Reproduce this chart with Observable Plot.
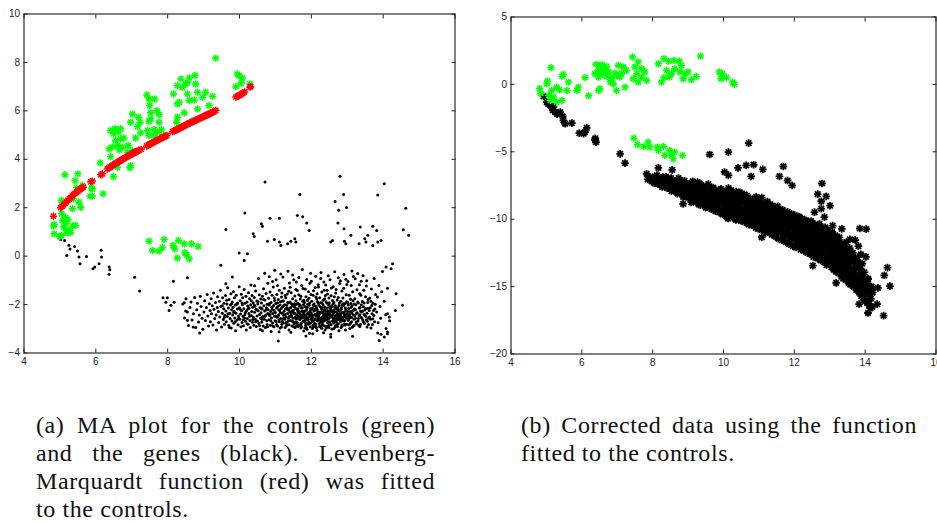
<!DOCTYPE html>
<html><head><meta charset="utf-8">
<script src="https://cdn.jsdelivr.net/npm/d3@7"></script>
<script src="https://cdn.jsdelivr.net/npm/@observablehq/plot@0.6"></script>
<style>
html,body{margin:0;padding:0;background:#fff;overflow:hidden;width:937px;height:523px;}
#wrap{position:relative;width:937px;height:523px;overflow:hidden;}
.panel{position:absolute;top:0;}
.cap{position:absolute;font-family:"Liberation Serif","DejaVu Serif",serif;font-size:24px;line-height:28px;letter-spacing:0.6px;color:#111;}
.cap .j{text-align:justify;text-align-last:justify;}
</style></head><body>
<div id="wrap">
  <div id="pa" class="panel" style="left:0px;width:470px"></div>
  <div id="pb" class="panel" style="left:470px;width:480px"></div>
  <div class="cap" style="left:36px;top:411px;width:399px">
    <div class="j">(a) MA plot for the controls (green)</div>
    <div class="j">and the genes (black). Levenberg-</div>
    <div class="j">Marquardt function (red) was fitted</div>
    <div>to the controls.</div>
  </div>
  <div class="cap" style="left:521px;top:411px;width:396px">
    <div class="j">(b) Corrected data using the function</div>
    <div>fitted to the controls.</div>
  </div>
</div>
<script>
const xTicks = [4,6,8,10,12,14,16];
const yTicksA = [-4,-2,0,2,4,6,8,10];
const yTicksB = [-20,-15,-10,-5,0,5];

// Panel (a): controls (green), flat [A, M, A, M, ...]
const controlsA = [5.14,3.36,5.42,3.12,5.50,3.40,5.63,2.92,5.47,2.82,5.04,2.30,5.37,2.37,5.53,2.23,5.35,1.96,5.58,2.02,5.84,2.48,5.91,2.78,
4.84,1.31,5.07,1.47,5.16,1.34,5.44,1.27,5.25,1.06,4.84,0.92,5.04,0.86,5.21,0.95,5.30,0.99,5.10,1.20,5.05,1.75,5.15,1.60,5.22,1.50,4.82,1.25,5.00,0.80,5.35,1.25,5.18,1.05,
6.20,2.57,5.88,2.81,5.90,2.48,6.12,3.85,6.49,3.29,6.60,3.67,6.97,3.74,6.95,3.65,6.41,4.11,6.37,4.43,6.65,4.39,6.88,4.29,7.02,4.36,
6.55,4.77,6.69,4.84,6.78,4.88,6.60,4.57,6.46,4.50,6.74,4.50,6.90,4.57,6.41,5.19,6.53,5.26,6.69,5.26,6.49,5.05,6.62,5.12,7.11,4.88,7.25,5.09,
7.02,5.87,6.97,5.53,7.19,5.74,7.23,5.53,7.16,5.35,7.42,6.66,7.48,6.49,7.64,6.49,7.50,6.22,7.53,5.92,7.70,6.01,7.76,5.85,7.53,5.67,
7.48,5.57,7.76,5.53,7.62,5.23,7.44,5.19,7.72,5.12,7.48,4.98,7.62,4.98,7.83,5.21,8.25,5.53,8.27,5.74,8.46,5.92,8.32,6.36,8.83,6.08,9.15,6.22,
8.27,6.29,8.60,6.43,8.74,6.45,8.97,6.56,8.16,6.70,8.55,6.70,8.83,6.77,9.06,6.77,9.25,6.60,8.27,7.04,8.41,6.97,8.50,7.11,8.78,7.11,8.55,7.18,
8.76,7.46,8.60,7.36,8.37,7.32,9.34,8.18,9.94,7.52,9.99,7.45,10.08,7.36,10.05,7.15,9.90,7.00,10.29,7.11,
7.48,0.62,7.58,0.24,7.76,0.21,7.85,0.35,7.90,0.69,8.15,0.44,8.20,0.30,8.30,0.65,8.27,-0.08,8.46,0.51,8.48,0.14,8.53,0.05,8.60,-0.11,8.66,0.51,8.85,0.40];

// Panel (a): fitted function (red)
const fitA = [4.82,1.65,5.02,2.00,5.06,2.06,5.10,2.12,5.14,2.18,5.18,2.24,5.22,2.30,5.26,2.36,5.30,2.42,5.34,2.48,5.38,2.54,5.42,2.59,5.46,2.64,5.50,2.69,5.54,2.74,5.58,2.78,5.62,2.82,5.65,2.85,
5.86,3.07,5.90,3.10,6.14,3.36,6.18,3.40,
6.32,3.60,6.36,3.64,6.40,3.68,6.44,3.72,6.48,3.76,6.52,3.80,6.56,3.84,6.60,3.87,6.64,3.90,6.68,3.94,6.72,3.98,6.76,4.02,6.80,4.05,6.84,4.08,6.88,4.12,6.92,4.15,6.96,4.18,7.00,4.21,7.04,4.25,7.08,4.28,7.12,4.31,7.16,4.34,7.20,4.37,7.26,4.41,
7.42,4.55,7.46,4.58,7.50,4.62,7.54,4.65,7.58,4.68,7.62,4.72,7.66,4.75,7.70,4.78,7.74,4.81,7.78,4.84,7.82,4.87,7.86,4.90,7.90,4.93,7.94,4.96,7.98,4.99,
8.14,5.14,8.18,5.17,8.22,5.20,8.26,5.23,8.30,5.26,8.34,5.29,8.38,5.32,8.42,5.35,8.46,5.38,8.50,5.41,8.54,5.44,8.58,5.47,8.62,5.50,8.66,5.53,8.70,5.56,8.74,5.58,8.78,5.61,8.82,5.64,8.86,5.67,8.90,5.70,8.94,5.72,8.98,5.75,9.02,5.78,9.06,5.81,9.10,5.84,9.14,5.86,9.18,5.89,9.22,5.92,9.26,5.95,9.30,5.98,9.34,6.02,
9.90,6.57,9.94,6.60,9.98,6.63,10.02,6.66,10.06,6.70,10.10,6.74,10.14,6.78,10.29,6.98,10.31,7.00];

// Panel (a): genes (black)
const genesA = [5.02,0.68,5.13,0.65,5.25,0.45,5.28,0.30,5.19,0.03,5.41,0.40,5.49,0.21,5.53,-0.04,5.56,-0.31,5.74,-0.01,5.92,-0.52,5.97,-0.45,6.09,-0.31,6.15,0.24,6.16,-0.04,6.37,-0.45,6.39,-0.56,6.37,-0.75,7.08,-0.87,7.22,-1.44,
10.71,3.06,12.80,3.30,14.03,2.99,11.68,2.55,12.90,2.55,13.85,2.53,12.66,2.26,12.98,2.01,12.76,1.90,14.63,1.98,10.15,1.78,11.61,1.68,11.76,1.63,10.85,1.57,11.11,1.57,11.87,1.37,12.74,1.37,10.61,1.34,10.64,1.23,11.94,1.06,9.62,1.10,12.91,1.13,13.36,1.20,13.71,1.23,13.82,1.06,13.10,0.86,13.49,0.72,13.57,0.86,14.56,1.09,14.71,0.86,10.38,0.92,10.41,0.81,10.78,0.62,10.97,0.69,11.11,0.58,11.15,0.44,11.34,0.51,11.43,0.62,11.54,0.72,11.57,0.58,12.54,0.58,12.59,0.65,12.92,0.62,12.96,0.51,13.33,0.51,13.52,0.58,13.71,0.44,13.85,0.58,13.94,0.65,9.99,0.13,10.22,0.10,10.13,-0.18,9.48,-0.38,9.80,-0.86,9.62,-1.14,8.55,-0.89,8.16,-1.04,7.87,-1.72,7.99,-1.72,7.95,-1.90,8.09,-2.03,8.18,-1.90,8.04,-2.24,8.46,-1.92,8.50,-2.27,8.71,-2.93,8.89,-3.17,8.55,-2.65,14.22,-0.52,14.08,-0.45,14.26,-0.31,14.36,-1.55,14.54,-2.03,14.12,-2.38,14.17,-2.51,14.34,-2.24,14.08,-2.99,14.12,-3.20,13.94,-3.23,13.85,-3.17,14.03,-3.34,13.89,-3.48,14.12,-3.13,11.08,-3.50,11.85,-3.30,12.54,-3.34,13.15,-3.31,
8.42,-1.98,8.47,-2.55,8.51,-1.76,8.55,-2.31,8.58,-2.86,8.62,-2.12,8.65,-1.89,8.68,-2.64,8.72,-2.38,8.75,-1.71,8.78,-2.95,8.81,-2.21,8.83,-1.95,8.86,-2.72,8.88,-2.43,8.91,-1.66,8.93,-2.08,8.96,-2.57,8.98,-3.02,
9.01,-2.31,9.03,-1.84,9.05,-2.66,9.08,-2.12,9.10,-1.58,9.12,-2.47,9.14,-2.89,9.16,-1.97,9.18,-2.24,9.19,-2.71,9.21,-1.76,9.22,-2.38,9.24,-2.05,9.26,-2.84,9.28,-1.52,9.29,-2.19,9.31,-2.58,9.33,-1.91,9.35,-2.43,9.36,-3.05,9.38,-2.12,9.39,-1.68,
9.41,-2.29,9.42,-2.74,9.44,-1.86,9.45,-2.51,9.47,-1.41,9.48,-2.08,9.50,-2.93,9.52,-2.36,9.53,-1.72,9.55,-2.62,9.56,-2.17,9.57,-1.95,9.58,-2.81,9.59,-2.44,
9.61,-1.63,9.62,-2.27,9.63,-2.71,9.65,-1.98,9.66,-2.49,9.67,-1.31,9.69,-2.14,9.70,-2.86,9.71,-1.79,9.73,-2.36,9.74,-2.58,9.75,-2.02,9.76,-1.55,9.77,-2.97,9.78,-2.21,9.79,-2.68,
9.80,-1.89,9.81,-2.43,9.82,-2.11,9.83,-1.47,9.84,-2.77,9.85,-2.29,9.86,-1.72,9.87,-2.55,9.88,-2.02,9.89,-3.08,9.90,-2.36,9.91,-1.61,9.93,-2.64,9.94,-2.18,9.95,-1.93,9.96,-2.83,9.97,-2.47,9.99,-1.26,
10.00,-2.13,10.01,-2.61,10.02,-1.84,10.03,-2.39,10.04,-2.92,10.05,-1.57,10.06,-2.26,10.07,-2.74,10.08,-2.01,10.09,-1.72,10.10,-2.48,10.11,-2.87,10.12,-2.17,10.13,-1.38,10.14,-2.55,10.15,-1.95,10.16,-2.33,10.17,-2.69,10.18,-1.66,10.19,-3.05,
10.20,-2.24,10.21,-1.89,10.22,-2.58,10.23,-2.06,10.24,-2.81,10.25,-1.51,10.26,-2.37,10.27,-2.14,10.28,-1.76,10.29,-2.66,10.30,-2.95,10.31,-2.01,10.32,-1.19,10.33,-2.45,10.34,-2.29,10.35,-1.63,10.36,-2.73,10.37,-2.11,10.38,-1.92,10.39,-2.52,
10.40,-2.85,10.41,-1.71,10.42,-2.32,10.43,-2.07,10.44,-2.61,10.45,-1.44,10.46,-2.19,10.47,-2.91,10.48,-1.85,10.49,-2.47,10.50,-2.68,10.51,-1.98,10.52,-2.26,10.53,-0.92,10.54,-2.77,10.55,-1.59,10.56,-2.41,10.57,-2.12,10.58,-3.03,10.59,-1.77,10.59,-2.56,10.42,-1.22,
10.60,-2.34,10.61,-1.93,10.62,-2.72,10.63,-2.18,10.64,-1.66,10.65,-2.49,10.66,-2.88,10.67,-1.35,10.68,-2.05,10.69,-2.61,10.70,-2.27,10.71,-1.81,10.72,-2.95,10.73,-2.43,10.74,-1.54,10.75,-2.13,10.76,-2.67,10.77,-1.99,10.78,-2.38,10.79,-1.12,10.64,-3.08,10.70,-0.71,10.77,-2.82,10.62,-2.54,
10.80,-2.21,10.81,-1.74,10.82,-2.63,10.83,-2.02,10.84,-2.46,10.85,-1.48,10.86,-2.85,10.87,-2.29,10.88,-1.91,10.89,-2.55,10.90,-2.11,10.91,-1.62,10.92,-2.76,10.93,-2.37,10.94,-1.27,10.95,-2.04,10.96,-2.92,10.97,-2.48,10.98,-1.83,10.99,-2.67,10.83,-0.85,10.88,-3.11,10.92,-1.05,10.96,-2.23,10.85,-2.41,10.98,-0.58,
11.00,-2.33,11.01,-1.96,11.02,-2.71,11.03,-2.14,11.04,-1.58,11.05,-2.52,11.06,-2.89,11.07,-2.07,11.08,-1.79,11.09,-2.42,11.10,-2.63,11.11,-1.41,11.12,-2.25,11.13,-2.97,11.14,-1.88,11.15,-2.58,11.16,-2.16,11.17,-1.69,11.18,-2.81,11.19,-2.36,11.02,-0.98,11.06,-1.21,11.10,-3.12,11.13,-2.02,11.15,-0.74,11.18,-1.52,11.08,-2.46,11.19,-2.69,
11.20,-2.09,11.21,-2.75,11.22,-1.84,11.23,-2.44,11.24,-2.28,11.25,-1.33,11.26,-2.61,11.27,-2.95,11.28,-2.17,11.29,-1.72,11.30,-2.51,11.31,-2.03,11.32,-2.84,11.33,-1.56,11.34,-2.37,11.35,-2.69,11.36,-1.94,11.37,-2.22,11.38,-3.05,11.39,-1.11,11.21,-0.86,11.24,-2.57,11.27,-1.63,11.30,-2.89,11.33,-2.13,11.35,-0.62,11.37,-1.45,11.39,-2.48,11.26,-2.01,11.31,-2.73,
11.40,-2.31,11.41,-1.89,11.42,-2.66,11.43,-2.12,11.44,-1.51,11.45,-2.47,11.46,-2.88,11.47,-2.04,11.48,-1.76,11.49,-2.56,11.50,-2.23,11.51,-0.97,11.52,-2.79,11.53,-2.38,11.54,-1.65,11.55,-2.95,11.56,-2.15,11.57,-1.84,11.58,-2.61,11.59,-2.43,11.41,-1.28,11.43,-3.14,11.46,-2.27,11.48,-0.78,11.50,-2.71,11.53,-1.97,11.55,-2.52,11.57,-1.38,11.59,-2.86,11.44,-2.39,11.52,-2.09,11.58,-1.07,
11.60,-2.19,11.61,-2.74,11.62,-1.93,11.63,-2.49,11.64,-2.33,11.65,-1.59,11.66,-2.83,11.67,-2.06,11.68,-2.62,11.69,-1.77,11.70,-2.41,11.71,-2.97,11.72,-2.14,11.73,-1.21,11.74,-2.55,11.75,-2.27,11.76,-1.86,11.77,-2.69,11.78,-2.01,11.79,-3.09,11.61,-1.42,11.63,-2.91,11.65,-0.88,11.67,-2.37,11.69,-2.58,11.71,-1.66,11.73,-2.44,11.75,-0.55,11.77,-1.34,11.79,-2.35,11.62,-2.25,11.66,-1.99,11.72,-2.78,11.78,-2.52,
11.80,-2.28,11.81,-1.91,11.82,-2.64,11.83,-2.09,11.84,-2.85,11.85,-1.68,11.86,-2.46,11.87,-2.21,11.88,-3.02,11.89,-1.83,11.90,-2.57,11.91,-2.34,11.92,-1.47,11.93,-2.73,11.94,-2.03,11.95,-2.49,11.96,-1.12,11.97,-2.92,11.98,-2.17,11.99,-2.61,11.81,-2.42,11.83,-1.36,11.85,-2.77,11.87,-0.96,11.89,-2.38,11.91,-2.81,11.93,-1.74,11.95,-3.18,11.97,-2.26,11.99,-1.58,11.82,-2.97,11.86,-2.11,11.90,-1.99,11.94,-2.41,11.98,-0.71,11.84,-2.53,
12.00,-2.35,12.01,-1.86,12.02,-2.71,12.03,-2.14,12.04,-2.53,12.05,-1.61,12.06,-2.92,12.07,-2.27,12.08,-1.98,12.09,-2.64,12.10,-2.41,12.11,-1.29,12.12,-2.81,12.13,-2.08,12.14,-2.47,12.15,-1.77,12.16,-3.07,12.17,-2.22,12.18,-2.59,12.19,-1.93,12.00,-1.04,12.02,-2.44,12.04,-3.21,12.06,-1.43,12.08,-2.76,12.10,-2.18,12.12,-0.83,12.14,-2.96,12.16,-1.55,12.18,-2.33,12.01,-2.57,12.05,-2.02,12.09,-2.87,12.13,-1.69,12.17,-2.67,12.19,-1.18,12.03,-2.99,12.15,-2.38,
12.20,-2.46,12.21,-2.02,12.22,-2.78,12.23,-1.72,12.24,-2.31,12.25,-2.61,12.26,-1.91,12.27,-2.94,12.28,-2.17,12.29,-1.48,12.30,-2.53,12.31,-2.26,12.32,-2.85,12.33,-1.82,12.34,-2.42,12.35,-1.07,12.36,-2.68,12.37,-2.11,12.38,-3.05,12.39,-1.63,12.20,-1.27,12.22,-2.39,12.24,-2.88,12.26,-0.92,12.28,-2.72,12.30,-1.95,12.32,-2.33,12.34,-3.16,12.36,-1.41,12.38,-2.57,12.21,-2.65,12.25,-2.09,12.29,-2.98,12.33,-2.49,12.37,-1.76,12.39,-2.24,12.27,-0.68,12.31,-2.81,
12.40,-2.29,12.41,-1.88,12.42,-2.63,12.43,-2.14,12.44,-2.91,12.45,-1.56,12.46,-2.44,12.47,-2.73,12.48,-2.02,12.49,-1.73,12.50,-2.55,12.51,-2.36,12.52,-0.98,12.53,-2.82,12.54,-2.19,12.55,-1.64,12.56,-2.49,12.57,-3.01,12.58,-2.07,12.59,-2.68,12.40,-1.19,12.42,-2.97,12.44,-1.41,12.46,-2.25,12.48,-2.86,12.50,-1.92,12.52,-2.42,12.54,-3.23,12.56,-1.32,12.58,-2.31,12.43,-2.52,12.47,-0.81,12.51,-2.71,12.55,-2.11,12.59,-1.83,12.45,-2.38,
12.60,-2.41,12.61,-1.97,12.62,-2.76,12.63,-2.22,12.64,-1.68,12.65,-2.58,12.66,-2.93,12.67,-2.05,12.68,-1.52,12.69,-2.47,12.70,-2.31,12.71,-2.84,12.72,-1.81,12.73,-2.63,12.74,-2.13,12.75,-0.89,12.76,-2.52,12.77,-3.08,12.78,-1.94,12.79,-2.37,12.61,-1.26,12.63,-2.99,12.65,-0.64,12.67,-2.69,12.69,-1.38,12.71,-2.18,12.73,-2.91,12.75,-1.71,12.77,-2.44,12.79,-1.13,12.62,-2.33,12.66,-2.11,12.70,-2.73,12.74,-2.56,
12.80,-2.27,12.81,-2.71,12.82,-1.86,12.83,-2.49,12.84,-2.12,12.85,-1.44,12.86,-2.88,12.87,-2.35,12.88,-1.73,12.89,-2.61,12.90,-2.04,12.91,-0.76,12.92,-2.79,12.93,-2.43,12.94,-1.96,12.95,-3.05,12.96,-2.21,12.97,-1.59,12.98,-2.56,12.99,-1.17,12.81,-1.02,12.83,-2.95,12.86,-2.01,12.88,-2.67,12.90,-1.33,12.92,-2.31,12.94,-2.84,12.96,-0.95,12.98,-1.88,12.85,-2.58,
13.00,-2.38,13.01,-1.91,13.03,-2.66,13.04,-2.16,13.05,-1.62,13.06,-2.83,13.08,-2.29,13.09,-1.78,13.10,-2.52,13.11,-1.21,13.12,-2.71,13.13,-2.05,13.14,-2.94,13.15,-1.47,13.16,-2.41,13.17,-0.84,13.18,-2.23,13.19,-2.61,13.02,-1.05,13.07,-2.99,13.10,-1.96,13.13,-0.61,13.16,-1.84,13.19,-2.86,13.04,-2.47,13.12,-2.33,
13.20,-2.18,13.21,-1.76,13.23,-2.57,13.24,-2.01,13.26,-2.79,13.27,-1.39,13.28,-2.34,13.30,-2.68,13.31,-1.93,13.33,-2.46,13.34,-1.18,13.35,-2.91,13.36,-2.12,13.38,-1.62,13.39,-2.53,13.22,-0.93,13.25,-2.37,13.29,-0.72,13.32,-2.86,13.35,-1.55,13.37,-2.27,13.39,-1.04,
13.40,-2.31,13.42,-1.87,13.43,-2.64,13.45,-2.09,13.46,-1.41,13.48,-2.78,13.49,-2.22,13.51,-1.68,13.52,-2.49,13.54,-1.02,13.55,-2.93,13.57,-2.15,13.58,-1.79,13.59,-2.57,13.44,-0.81,13.47,-2.41,13.53,-1.23,13.56,-2.69,
13.61,-2.24,13.63,-1.73,13.65,-2.61,13.67,-1.36,13.68,-2.04,13.70,-2.82,13.72,-1.95,13.74,-2.45,13.75,-0.92,13.77,-2.18,13.79,-1.58,13.66,-2.97,
13.82,-2.31,13.84,-1.69,13.86,-2.75,13.88,-1.21,13.91,-2.08,13.93,-2.56,13.96,-1.47,13.98,-0.63,14.03,-1.86,14.07,-2.42,14.12,-1.33,14.18,-2.67,
9.52,-2.05,9.58,-2.52,9.64,-1.82,9.68,-2.38,9.72,-2.95,9.78,-1.97,9.84,-2.32,9.88,-2.71,9.92,-1.99,9.98,-2.56,
10.03,-2.21,10.07,-1.94,10.11,-2.63,10.15,-2.42,10.21,-2.79,10.24,-2.17,10.28,-2.48,10.33,-1.84,10.37,-2.62,10.41,-2.02,
10.45,-2.71,10.49,-2.22,10.52,-1.88,10.56,-2.87,10.61,-2.15,10.63,-2.61,10.67,-1.79,10.71,-2.48,10.74,-2.21,10.78,-2.92,
10.81,-2.38,10.84,-1.95,10.87,-2.67,10.91,-2.19,10.93,-2.88,10.97,-1.73,11.01,-2.47,11.03,-2.82,11.06,-1.92,11.09,-2.21,
11.11,-2.71,11.14,-2.34,11.17,-2.93,11.19,-1.86,11.22,-2.58,11.24,-2.03,11.27,-2.41,11.29,-2.77,11.32,-2.19,11.34,-1.91,
11.36,-2.56,11.38,-2.83,11.41,-2.14,11.43,-2.48,11.45,-1.97,11.47,-2.69,11.49,-2.31,11.51,-2.92,11.53,-2.06,11.55,-2.37,
11.57,-2.74,11.59,-1.99,11.61,-2.56,11.63,-2.17,11.65,-2.86,11.67,-2.29,11.69,-2.03,11.71,-2.51,11.73,-2.91,11.75,-2.13,
11.77,-2.45,11.79,-1.82,11.81,-2.71,11.83,-2.27,11.85,-2.52,11.87,-2.96,11.89,-2.11,11.91,-2.62,11.93,-2.35,11.95,-1.94,
11.97,-2.77,11.99,-2.44,12.01,-2.19,12.03,-2.68,12.05,-2.86,12.07,-2.04,12.09,-2.43,12.11,-2.59,12.13,-2.92,12.15,-2.14,
12.17,-1.87,12.19,-2.51,12.21,-2.33,12.23,-2.91,12.25,-2.36,12.27,-2.58,12.29,-2.12,12.31,-2.71,12.33,-2.02,12.35,-2.48,
12.37,-2.89,12.39,-2.39,12.41,-2.56,12.43,-1.93,12.45,-2.74,12.47,-2.29,12.49,-2.95,12.51,-2.12,12.53,-2.46,12.55,-2.83,
12.57,-2.27,12.59,-2.53,12.61,-2.69,12.63,-1.91,12.65,-2.31,12.67,-2.87,12.69,-2.16,12.71,-2.55,12.73,-2.38,12.75,-2.79,
12.77,-2.04,12.79,-2.62,12.81,-2.43,12.83,-2.19,12.85,-2.84,12.87,-2.52,12.89,-1.97,12.91,-2.37,12.93,-2.66,12.95,-2.14,
12.97,-2.49,12.99,-2.81,13.01,-2.29,13.03,-2.02,13.05,-2.58,13.07,-2.41,13.09,-2.77,13.11,-2.11,13.13,-2.53,13.15,-2.26,
13.17,-2.88,13.19,-1.98,13.21,-2.46,13.23,-2.21,13.25,-2.72,13.27,-2.35,13.29,-1.89,13.31,-2.58,13.33,-2.14,13.35,-2.42,
13.37,-2.81,13.39,-2.01,13.41,-2.55,13.43,-2.27,13.45,-2.71,13.47,-1.94,13.49,-2.44,13.51,-2.17,13.53,-2.63,13.55,-2.36,
13.57,-1.91,13.59,-2.82,13.62,-2.51,13.64,-2.13,13.66,-1.86,13.69,-2.38,13.71,-2.59,13.73,-2.24,13.76,-2.71,13.78,-1.99,
12.12,-2.23,12.26,-2.66,12.36,-2.21,12.46,-2.61,12.56,-2.05,12.66,-2.46,12.76,-2.24,12.86,-2.33,11.96,-2.36,11.86,-2.64,
11.76,-2.31,11.66,-2.47,12.22,-2.52,12.32,-2.61,12.42,-2.44,12.52,-2.29,12.62,-2.59,12.72,-2.45,12.82,-2.61,12.92,-2.49];

// Panel (b): controls (green)
const controlsB = [5.13,1.24,4.81,-0.32,4.84,-0.69,5.03,0.25,5.01,0.05,5.29,-0.20,5.37,-0.40,5.15,-0.45,5.20,-0.94,5.06,-0.82,5.11,-1.19,5.29,-1.31,5.44,-1.19,5.48,0.74,5.44,0.60,5.62,0.17,5.58,-0.45,5.86,-0.45,5.90,-0.20,6.09,0.50,6.19,-0.84,
6.40,1.49,6.51,1.41,6.47,1.04,6.61,1.16,6.70,1.34,6.75,0.92,6.56,0.79,6.65,0.67,6.47,0.54,6.37,0.79,6.55,1.25,6.60,0.95,6.68,1.05,6.44,0.90,6.72,0.60,6.93,0.85,7.07,0.55,6.58,1.45,
6.84,0.42,6.80,0.17,6.89,0.05,6.98,0.67,7.03,1.41,7.17,1.29,7.26,1.04,7.12,0.79,7.22,-0.20,6.98,-0.45,6.51,-0.32,6.47,-0.45,
7.43,2.03,7.59,1.66,7.50,1.29,7.69,1.16,7.78,0.92,7.55,0.79,7.69,0.54,7.45,0.42,7.59,0.17,7.83,0.30,
8.16,1.53,8.32,1.91,8.44,1.73,8.60,1.78,8.75,1.73,8.81,1.41,8.62,1.16,8.39,1.04,8.53,0.79,8.77,0.92,8.91,0.79,9.00,0.92,9.23,0.59,9.09,0.35,8.86,0.42,8.32,0.50,8.25,0.17,8.47,0.54,9.35,2.10,
9.88,0.92,9.97,0.79,9.93,0.42,10.08,0.50,10.26,0.17,10.31,0.00,
7.47,-3.99,7.57,-4.46,7.75,-4.60,7.87,-4.28,7.92,-4.65,8.13,-4.65,8.30,-4.60,8.16,-4.90,8.47,-4.90,8.34,-5.27,8.53,-5.27,8.62,-5.02,8.58,-5.52,8.84,-5.27];

// Panel (b): genes (black)
const genesB = [4.92,-0.89,5.01,-1.31,5.05,-1.45,5.11,-1.56,5.15,-1.75,5.20,-1.68,5.18,-1.93,5.25,-2.05,5.30,-2.20,5.39,-2.05,5.46,-2.38,5.48,-2.67,5.53,-2.92,5.72,-2.87,5.93,-3.61,6.05,-3.65,6.09,-3.54,6.14,-3.22,6.37,-4.11,6.38,-4.00,6.40,-4.29,7.08,-5.15,7.22,-5.84,
9.61,-5.20,10.14,-5.03,10.71,-4.36,8.16,-6.19,8.55,-6.34,10.41,-6.19,10.64,-6.01,10.85,-5.96,11.11,-6.31,11.69,-6.09,10.03,-6.50,10.14,-6.75,10.78,-6.83,11.58,-6.83,11.81,-7.13,11.94,-7.50,12.78,-7.35,12.66,-8.14,12.90,-8.31,12.76,-8.67,13.01,-9.00,12.76,-9.22,12.57,-9.47,12.85,-9.85,13.08,-10.47,13.34,-10.72,13.85,-10.69,14.03,-10.74,13.57,-11.50,13.72,-11.55,13.81,-12.00,13.88,-12.60,14.02,-12.80,13.78,-13.40,13.92,-13.30,14.63,-13.59,14.54,-14.16,14.70,-14.97,14.08,-14.45,14.19,-15.20,14.36,-15.10,13.83,-16.30,14.11,-16.40,14.20,-16.50,14.34,-16.30,14.08,-16.96,14.52,-17.15,7.83,-6.63,8.02,-7.13,7.92,-6.88,8.86,-8.86,8.11,-7.25,11.08,-11.34,13.18,-14.73,12.52,-13.44,
7.86,-7.05,7.97,-7.20,8.05,-7.35,8.08,-7.10,8.12,-6.75,8.15,-7.40,8.18,-7.05,8.21,-7.30,8.24,-6.95,8.27,-7.60,8.31,-7.15,8.35,-7.45,8.38,-6.85,
8.41,-7.70,8.44,-7.25,8.48,-7.50,8.52,-6.95,8.55,-7.85,8.58,-7.35,8.61,-7.60,8.64,-7.15,8.68,-8.00,8.71,-7.45,8.75,-7.80,8.78,-7.10,8.81,-7.55,8.84,-8.15,8.88,-7.30,8.91,-7.85,8.95,-8.35,8.98,-7.60,
9.01,-8.05,9.03,-7.40,9.06,-8.50,9.08,-7.75,9.11,-8.20,9.13,-7.20,9.15,-8.70,9.17,-7.95,9.19,-8.40,9.21,-7.60,9.23,-8.15,9.26,-8.75,9.28,-7.85,9.31,-8.45,9.33,-7.35,9.35,-8.95,9.37,-8.10,9.39,-7.70,
9.41,-8.35,9.43,-7.55,9.46,-8.85,9.48,-8.05,9.51,-7.80,9.53,-9.10,9.55,-8.50,9.57,-7.40,9.59,-8.25,9.61,-8.70,9.63,-7.95,9.66,-9.25,9.68,-8.40,9.71,-7.65,9.73,-8.95,9.75,-8.15,9.77,-9.40,9.79,-7.85,
9.81,-8.60,9.83,-9.15,9.86,-8.00,9.88,-9.50,9.91,-8.35,9.93,-7.75,9.95,-8.85,9.97,-9.65,9.99,-8.20,
10.01,-8.95,10.02,-7.95,10.04,-9.40,10.06,-8.45,10.08,-9.80,10.10,-8.10,10.12,-9.15,10.14,-7.70,10.16,-8.70,10.18,-9.55,10.19,-8.30,
10.21,-9.00,10.22,-7.85,10.24,-9.70,10.26,-8.50,10.28,-9.30,10.30,-8.15,10.32,-9.95,10.34,-8.80,10.36,-7.95,10.38,-9.50,10.39,-8.60,
10.41,-9.20,10.42,-8.35,10.44,-10.05,10.46,-8.00,10.48,-9.55,10.50,-8.75,10.52,-9.85,10.54,-8.45,10.56,-9.30,10.58,-8.15,10.59,-10.20,
10.61,-9.05,10.62,-8.60,10.64,-9.80,10.66,-8.25,10.68,-10.30,10.70,-9.40,10.72,-8.85,10.74,-9.95,10.76,-8.45,10.78,-9.60,10.79,-10.45,
10.81,-9.20,10.82,-8.55,10.84,-10.15,10.86,-9.60,10.88,-8.90,10.90,-10.50,10.92,-8.35,10.94,-9.85,10.96,-9.35,10.98,-10.70,10.99,-8.70,
11.01,-9.55,11.02,-8.65,11.04,-10.35,11.05,-9.10,11.07,-10.80,11.08,-8.40,11.10,-9.85,11.12,-10.55,11.13,-9.30,11.15,-8.85,11.16,-10.15,11.18,-9.65,11.19,-11.00,
11.21,-9.40,11.22,-10.40,11.24,-8.70,11.25,-10.95,11.27,-9.90,11.28,-9.15,11.30,-10.65,11.32,-8.90,11.33,-10.20,11.35,-9.60,11.36,-11.15,11.38,-9.00,11.39,-10.50,
11.41,-9.75,11.42,-10.85,11.44,-9.20,11.45,-10.30,11.47,-11.30,11.48,-9.50,11.50,-10.05,11.52,-10.70,11.53,-9.05,11.55,-11.45,11.56,-9.90,11.58,-10.45,11.59,-9.35,
11.61,-10.95,11.62,-9.65,11.64,-10.25,11.65,-11.55,11.67,-9.30,11.68,-10.60,11.70,-10.00,11.72,-11.20,11.73,-9.50,11.75,-10.80,11.76,-11.70,11.78,-9.85,11.79,-10.40,
11.81,-9.45,11.82,-11.05,11.84,-10.15,11.85,-11.85,11.87,-9.75,11.88,-10.60,11.90,-11.40,11.92,-9.60,11.93,-10.30,11.95,-11.10,11.96,-12.00,11.98,-10.00,11.99,-10.85,
12.01,-9.70,12.02,-11.30,12.04,-10.45,12.05,-12.10,12.07,-9.95,12.08,-10.90,12.10,-11.60,12.11,-10.20,12.13,-11.95,12.14,-9.85,12.16,-10.70,12.17,-11.45,12.18,-12.25,12.19,-10.40,
12.21,-11.10,12.22,-9.95,12.24,-11.75,12.25,-10.55,12.27,-12.35,12.28,-10.25,12.30,-11.30,12.31,-12.00,12.33,-10.80,12.34,-10.10,12.36,-11.55,12.37,-12.50,12.38,-10.60,12.39,-11.15,
12.41,-10.35,12.42,-11.90,12.44,-10.95,12.45,-12.60,12.47,-10.15,12.48,-11.40,12.50,-12.20,12.51,-10.70,12.53,-11.70,12.54,-12.80,12.56,-10.45,12.57,-11.20,12.58,-12.40,12.59,-10.95,
12.61,-11.55,12.62,-10.50,12.64,-12.15,12.65,-12.90,12.67,-10.80,12.68,-11.85,12.70,-12.55,12.71,-10.35,12.73,-11.30,12.74,-13.05,12.76,-11.95,12.77,-10.70,12.78,-12.35,12.79,-11.60,
12.81,-10.90,12.82,-12.70,12.84,-11.45,12.85,-13.20,12.87,-10.60,12.88,-12.00,12.90,-11.75,12.91,-13.40,12.93,-11.10,12.94,-12.45,12.96,-10.85,12.97,-13.00,12.98,-11.90,12.99,-12.25,
13.01,-11.30,13.02,-12.85,13.04,-11.95,13.05,-13.55,13.07,-10.95,13.08,-12.50,13.10,-12.10,13.11,-13.75,13.13,-11.50,13.14,-13.10,13.16,-11.20,13.17,-12.70,13.18,-13.90,13.19,-12.30,
13.21,-11.60,13.22,-13.35,13.24,-12.45,13.25,-14.00,13.27,-11.35,13.28,-12.90,13.30,-13.60,13.31,-12.15,13.33,-14.25,13.34,-11.80,13.36,-13.05,13.37,-12.60,13.38,-14.40,13.39,-13.40,
13.41,-12.00,13.42,-13.70,13.44,-12.75,13.45,-14.50,13.47,-11.70,13.48,-13.25,13.50,-14.05,13.51,-12.40,13.53,-14.70,13.54,-13.50,13.56,-12.15,13.57,-13.90,13.58,-14.85,13.59,-12.90,
13.61,-13.15,13.63,-14.60,13.65,-12.50,13.67,-15.00,13.69,-13.80,13.71,-14.30,13.73,-12.85,13.75,-15.25,13.77,-13.55,13.79,-14.75,
13.81,-14.10,13.83,-15.45,13.85,-13.30,13.87,-14.85,13.89,-15.70,13.91,-13.90,13.93,-14.45,13.95,-15.30,13.97,-16.00,13.99,-14.65,
14.02,-15.10,14.05,-16.20,14.08,-14.40,14.11,-15.60,14.15,-16.60,14.18,-15.00,
8.06,-6.82,8.09,-7.22,8.16,-7.02,8.19,-7.42,8.26,-7.12,8.29,-6.88,8.33,-7.55,8.36,-7.28,8.43,-7.05,8.46,-7.62,8.50,-7.30,8.53,-7.92,
8.63,-7.35,8.66,-7.75,8.70,-8.10,8.73,-6.95,8.83,-7.75,8.86,-8.35,8.90,-7.15,8.93,-8.05,
9.02,-7.65,9.05,-8.25,9.09,-8.75,9.12,-7.45,9.14,-8.00,9.22,-7.95,9.25,-8.45,9.27,-7.25,9.30,-8.90,9.34,-8.20,
9.42,-8.10,9.45,-8.65,9.47,-7.65,9.50,-9.15,9.54,-8.30,9.56,-7.95,9.62,-8.20,9.64,-8.85,9.67,-7.75,9.70,-9.20,9.72,-8.55,9.76,-8.00,
9.82,-8.40,9.84,-9.00,9.87,-7.90,9.89,-9.35,9.92,-8.70,9.96,-8.15,
10.03,-8.60,10.05,-9.15,10.07,-8.05,10.09,-9.55,10.11,-8.85,10.13,-9.95,10.15,-8.35,10.17,-9.30,
10.23,-8.75,10.25,-9.45,10.27,-8.20,10.29,-9.85,10.31,-9.10,10.33,-8.45,10.35,-10.05,10.37,-9.25,
10.43,-8.90,10.45,-9.70,10.47,-8.40,10.49,-10.10,10.51,-9.25,10.53,-8.65,10.55,-9.95,10.57,-9.45,
10.63,-9.30,10.65,-10.05,10.67,-8.70,10.69,-9.65,10.71,-10.40,10.73,-8.95,10.75,-9.85,10.77,-9.15,
10.83,-9.45,10.85,-10.30,10.87,-8.80,10.89,-9.95,10.91,-10.65,10.93,-9.20,10.95,-10.15,10.97,-8.95,
11.03,-9.80,11.06,-10.55,11.09,-9.05,11.11,-10.20,11.14,-9.50,11.17,-10.85,11.19,-9.25,11.09,-9.70,
11.23,-10.10,11.26,-9.35,11.29,-10.90,11.31,-9.80,11.34,-10.55,11.37,-9.25,11.26,-10.70,11.38,-10.25,
11.43,-10.50,11.46,-9.65,11.49,-11.10,11.51,-10.25,11.54,-9.45,11.57,-10.85,11.46,-11.20,11.58,-10.15,
11.63,-10.70,11.66,-9.80,11.69,-11.35,11.71,-10.45,11.74,-9.70,11.77,-11.05,11.66,-10.95,11.78,-10.20,
11.83,-10.85,11.86,-9.95,11.89,-11.60,11.91,-10.45,11.94,-9.85,11.97,-11.25,11.86,-11.30,11.98,-10.55,
12.03,-11.05,12.06,-10.15,12.09,-11.85,12.12,-10.65,12.15,-11.25,12.18,-10.05,12.06,-11.55,12.16,-12.00,12.12,-9.80,
12.23,-11.35,12.26,-10.40,12.29,-12.05,12.32,-10.95,12.35,-11.65,12.38,-10.30,12.26,-11.80,12.36,-12.25,12.32,-10.10,
12.43,-11.55,12.46,-10.65,12.49,-12.35,12.52,-11.15,12.55,-11.90,12.58,-10.55,12.46,-12.05,12.56,-12.55,12.52,-10.30,
12.63,-11.80,12.66,-10.95,12.69,-12.65,12.72,-11.45,12.75,-12.20,12.78,-10.85,12.66,-12.40,12.76,-12.85,12.72,-10.55,
12.83,-12.05,12.86,-11.25,12.89,-12.95,12.92,-11.65,12.95,-12.55,12.98,-11.05,12.86,-12.75,12.96,-13.20,12.92,-10.80,
13.03,-12.45,13.06,-11.55,13.09,-13.30,13.12,-11.85,13.15,-12.95,13.18,-11.40,13.06,-13.05,13.16,-13.50,13.12,-12.55,
13.23,-12.80,13.26,-11.95,13.29,-13.75,13.32,-12.35,13.35,-13.45,13.38,-11.90,13.26,-13.15,13.36,-14.05,13.32,-12.95,
13.43,-13.20,13.46,-12.35,13.49,-14.25,13.52,-12.85,13.55,-13.95,13.58,-12.45,13.46,-13.70,13.56,-14.45,13.52,-13.40,
13.63,-13.75,13.66,-12.90,13.69,-14.70,13.72,-13.35,13.75,-14.45,13.78,-13.00,13.66,-14.15,13.76,-15.00,
13.83,-14.40,13.86,-13.65,13.89,-15.25,13.92,-14.20,13.95,-15.00,13.98,-13.95,13.86,-15.05,13.96,-15.60,
14.03,-15.45,14.06,-14.75,14.09,-16.10,14.13,-15.20,14.16,-15.90,14.21,-15.45];

const pairs = arr => d3.range(0, arr.length, 2).map(i => ({a: arr[i], m: arr[i + 1]}));

const stars = (data, color, r, sw) => [
  Plot.dot(data, {x: "a", y: "m", symbol: "plus", r, stroke: color, strokeWidth: sw}),
  Plot.dot(data, {x: "a", y: "m", symbol: "times", r, stroke: color, strokeWidth: sw})
];

const axes = (yTicks) => [
  Plot.frame({stroke: "black", strokeWidth: 1}),
  Plot.axisX(xTicks, {anchor: "bottom", tickSize: 0, tickPadding: 5, label: null}),
  Plot.axisY(yTicks, {anchor: "left", tickSize: 0, tickPadding: 4, label: null}),
  Plot.axisX(xTicks, {anchor: "bottom", tickSize: -4, tickFormat: () => "", label: null}),
  Plot.axisX(xTicks, {anchor: "top", tickSize: -4, tickFormat: () => "", label: null}),
  Plot.axisY(yTicks, {anchor: "left", tickSize: -4, tickFormat: () => "", label: null}),
  Plot.axisY(yTicks, {anchor: "right", tickSize: -4, tickFormat: () => "", label: null})
];

const style = {fontFamily: "'Liberation Sans', Arial, sans-serif", fontSize: "10px", color: "#222", background: "transparent", overflow: "visible", maxWidth: "none"};

const plotA = Plot.plot({
  width: 470, height: 372,
  marginLeft: 23.5, marginRight: 15.5, marginTop: 13.5, marginBottom: 19.5,
  style,
  x: {domain: [4, 16], label: null},
  y: {domain: [-4, 10], label: null},
  marks: [
    Plot.dot(pairs(genesA), {x: "a", y: "m", r: 1.5, fill: "black", stroke: "none"}),
    ...stars(pairs(controlsA), "#00ff00", 2.5, 1.5),
    ...stars(pairs(fitA), "#ff0000", 2.5, 1.5),
    ...axes(yTicksA)
  ]
});
document.getElementById("pa").appendChild(plotA);

const plotB = Plot.plot({
  width: 480, height: 372,
  marginLeft: 40.5, marginRight: 14.5, marginTop: 16.5, marginBottom: 18.5,
  style,
  x: {domain: [4, 16], label: null},
  y: {domain: [-20, 5], label: null},
  marks: [
    ...stars(pairs(genesB), "black", 2.6, 1.8),
    ...stars(pairs(controlsB), "#00ff00", 2.5, 1.5),
    ...axes(yTicksB)
  ]
});
document.getElementById("pb").appendChild(plotB);
</script>
</body></html>
